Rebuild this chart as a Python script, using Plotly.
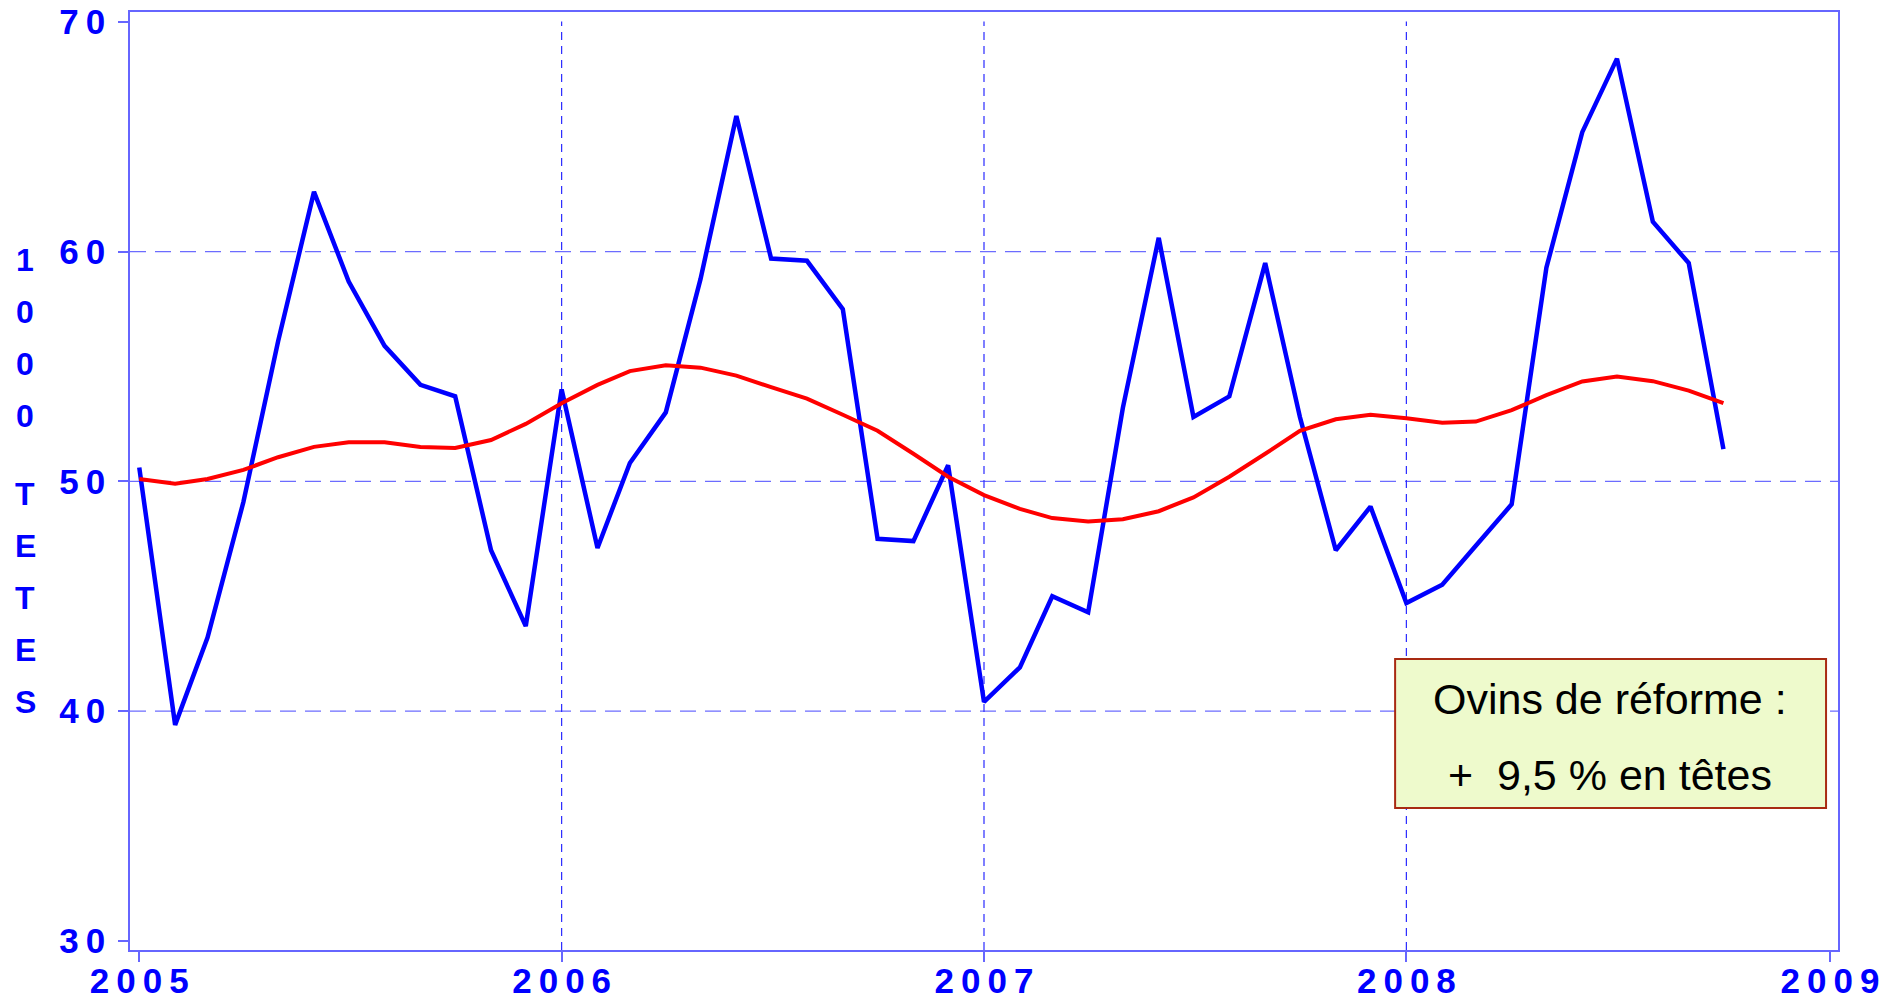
import pandas as pd
import plotly.graph_objects as go

# Monthly data, Jan 2005 .. Oct 2008 (thousand heads)
months = pd.date_range('2005-01-01', periods=46, freq='MS')

abattages = [50.6, 39.4, 43.2, 49.1, 56.1, 62.6, 58.7, 55.9, 54.2, 53.7, 47.0, 43.7,
             54.0, 47.1, 50.8, 53.0, 58.8, 65.9, 59.7, 59.6, 57.5, 47.5, 47.4, 50.7,
             40.4, 41.9, 45.0, 44.3, 53.2, 60.6, 52.8, 53.7, 59.5, 52.8, 47.0, 48.9,
             44.7, 45.5, 47.2, 49.0, 59.3, 65.2, 68.4, 61.3, 59.5, 51.4]

tendance = [50.1, 49.9, 50.1, 50.5, 51.05, 51.5, 51.7, 51.7, 51.5, 51.45, 51.8, 52.5,
            53.4, 54.2, 54.8, 55.05, 54.95, 54.6, 54.1, 53.6, 52.9, 52.2, 51.2, 50.2,
            49.4, 48.8, 48.4, 48.25, 48.35, 48.7, 49.3, 50.2, 51.2, 52.2, 52.7, 52.9,
            52.75, 52.55, 52.6, 53.1, 53.75, 54.35, 54.56, 54.36, 53.95, 53.4]

SP = '\u2009'  # thin space, the original labels are letter-spaced
year_ticks = ['2005-01-01', '2006-01-01', '2007-01-01', '2008-01-01', '2009-01-01']
year_labels = [SP.join(y) for y in ['2005', '2006', '2007', '2008', '2009']]
year_grid = ['2006-01-01', '2007-01-01', '2008-01-01']
y_ticks = [30, 40, 50, 60, 70]
y_labels = [SP.join(str(v)) for v in y_ticks]
y_grid = [40, 50, 60]
y_title = '1000 TETES'
note_lines = ['Ovins de réforme :', '+  9,5 % en têtes']

BLUE = '#0000ff'
AXIS = '#6666ff'
FONT = 'Liberation Sans'

fig = go.Figure()
fig.add_trace(go.Scatter(x=months, y=abattages, mode='lines',
                         line=dict(color=BLUE, width=4.5), showlegend=False))
fig.add_trace(go.Scatter(x=months, y=tendance, mode='lines',
                         line=dict(color='#ff0000', width=4), showlegend=False))

# grid lines (no line at 30/70 or at 2005/2009 in the original)
for v in y_grid:
    fig.add_shape(type='line', xref='paper', x0=0, x1=1, yref='y', y0=v, y1=v,
                  line=dict(color='#6c6cff', width=1.3, dash='16px,9px'), layer='below')
for d in year_grid:
    fig.add_shape(type='line', xref='x', x0=d, x1=d, yref='paper', y0=0, y1=0.99,
                  line=dict(color='#2a2aff', width=1.2, dash='8px,6px'), layer='below')

# vertical axis title, one character per line
ypix = 260.0
for ch in y_title:
    if ch == ' ':
        ypix += 25.5
        continue
    fig.add_annotation(text=ch, xref='paper', yref='paper',
                       x=(25 - 129.6) / 1708.4, y=(950 - ypix) / 938,
                       showarrow=False, xanchor='center', yanchor='middle',
                       font=dict(family=FONT, size=32, color=BLUE, weight='bold'))
    ypix += 52.1

# note box
fig.add_shape(type='rect', xref='paper', yref='paper', x0=0.7407, x1=0.993, y0=0.1514, y1=0.3102,
              fillcolor='#eefacc', line=dict(color='#a82a12', width=2))
for txt, yy in zip(note_lines, [0.2676, 0.1866]):
    fig.add_annotation(text=txt, xref='paper', yref='paper', x=0.8666, y=yy,
                       showarrow=False, xanchor='center', yanchor='middle',
                       font=dict(family=FONT, size=43, color='black'))

axis_common = dict(showline=True, linecolor=AXIS, linewidth=1.5, mirror=True,
                   showgrid=False, zeroline=False, ticks='outside', ticklen=10,
                   tickcolor=AXIS, tickwidth=1.5, automargin=False,
                   tickfont=dict(family=FONT, size=35, color=BLUE, weight='bold'))

fig.update_xaxes(type='date', range=['2004-12-24', '2009-01-08'],
                 tickvals=year_ticks, ticktext=year_labels,
                 ticklabelstandoff=-11, **axis_common)
fig.update_yaxes(range=[29.6, 70.43], tickvals=y_ticks, ticktext=y_labels,
                 ticklabelstandoff=6, **axis_common)

fig.update_layout(width=1899, height=1000,
                  margin=dict(l=130, r=61, t=12, b=50),
                  plot_bgcolor='white', paper_bgcolor='white')

# drop the default 8px page margin so the figure sits at the window corner
fig.write_html("out.html", config={'displayModeBar': False},
               post_script="document.body.style.margin='0';")
